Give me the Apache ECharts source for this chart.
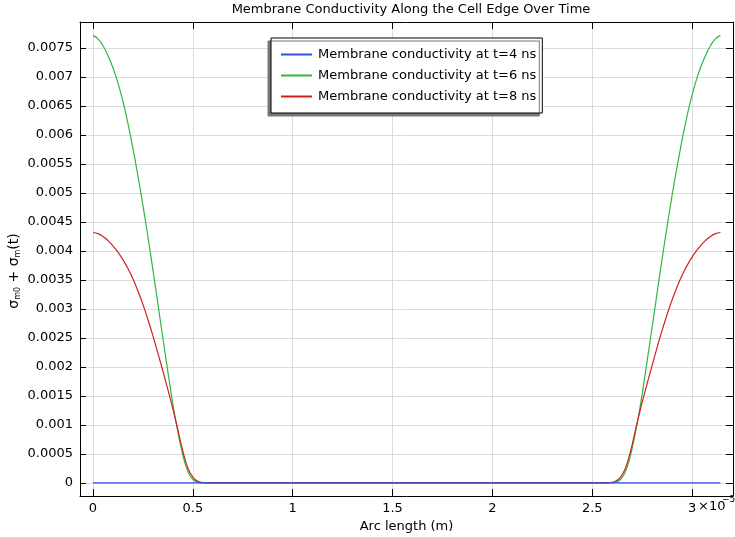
<!DOCTYPE html>
<html lang="en">
<head>
    <meta charset="UTF-8">
    <title>Membrane Conductivity Along the Cell Edge Over Time</title>
    <script src="https://cdn.jsdelivr.net/npm/echarts@6/dist/echarts.min.js"></script>
    <style>
        html, body { margin: 0; padding: 0; background: #fff; }
        #chart { width: 735px; height: 537px; }
    </style>
</head>
<body>
<div id="chart"></div>
<script>
    // arc length, in units of 1e-5 m
    const arcLength = [
        0, 0.025, 0.05, 0.075, 0.1, 0.125, 0.15, 0.175, 0.2, 0.225, 0.25, 0.275, 0.3,
        0.325, 0.35, 0.375, 0.4, 0.425, 0.45, 0.475, 0.5, 0.525, 0.55, 0.575, 0.6,
        1.0, 1.5, 2.0, 2.5,
        2.542, 2.567, 2.592, 2.617, 2.642, 2.667, 2.692, 2.717, 2.742, 2.767, 2.792, 2.817,
        2.842, 2.867, 2.892, 2.917, 2.942, 2.967, 2.992, 3.017, 3.042, 3.067, 3.092, 3.117, 3.142
    ]
    const sigmaT4 = [
        0, 0, 0, 0, 0, 0, 0, 0, 0, 0, 0, 0, 0, 0, 0, 0, 0, 0, 0, 0, 0, 0, 0, 0, 0,
        0, 0, 0, 0,
        0, 0, 0, 0, 0, 0, 0, 0, 0, 0, 0, 0, 0, 0, 0, 0, 0, 0, 0, 0, 0, 0, 0, 0, 0
    ]
    const sigmaT6 = [
        0.00772, 0.00766, 0.00754, 0.00737, 0.00716, 0.00690, 0.00658, 0.00620, 0.00577,
        0.00530, 0.00479, 0.00425, 0.00368, 0.00309, 0.00250, 0.00192, 0.00136, 0.00088,
        0.00048, 0.00020, 0.00006, 0.000015, 0.000004, 0.000001, 0,
        0, 0, 0, 0,
        0, 0.000001, 0.000004, 0.000015, 0.00006, 0.00020, 0.00048, 0.00088, 0.00136,
        0.00192, 0.00250, 0.00309, 0.00368, 0.00425, 0.00479, 0.00530, 0.00577, 0.00620,
        0.00658, 0.00690, 0.00716, 0.00737, 0.00754, 0.00766, 0.00772
    ]
    const sigmaT8 = [
        0.00432, 0.00430, 0.00425, 0.00418, 0.00409, 0.00398, 0.00385, 0.00370, 0.00352,
        0.00331, 0.00308, 0.00282, 0.00254, 0.00224, 0.00193, 0.00161, 0.00128, 0.00092,
        0.00055, 0.00026, 0.00010, 0.00003, 0.000008, 0.000002, 0,
        0, 0, 0, 0,
        0, 0.000002, 0.000008, 0.00003, 0.00010, 0.00026, 0.00055, 0.00092, 0.00128,
        0.00161, 0.00193, 0.00224, 0.00254, 0.00282, 0.00308, 0.00331, 0.00352, 0.00370,
        0.00385, 0.00398, 0.00409, 0.00418, 0.00425, 0.00430, 0.00432
    ]
    const seriesNames = [
        'Membrane conductivity at t=4 ns',
        'Membrane conductivity at t=6 ns',
        'Membrane conductivity at t=8 ns'
    ]
    const seriesColors = ['#2f4fe8', '#2fb83f', '#d21e1e']

    function pairs(values) {
        return arcLength.map((x, i) => [x, values[i]])
    }

    const font = 'DejaVu Sans'
    const frameAxis = {
        axisLine: {show: true, onZero: false, lineStyle: {color: '#000', width: 1}},
        axisTick: {show: true, inside: true, length: 7, lineStyle: {color: '#000'}},
        axisLabel: {show: false},
        splitLine: {show: false}
    }
    const xScale = {type: 'value', min: -0.065, max: 3.205, splitNumber: 6}
    const yScale = {type: 'value', min: -0.000225, max: 0.00795, splitNumber: 16}

    let myChart = echarts.init(document.getElementById('chart'))
    let option = {
        animation: false,
        backgroundColor: '#fff',
        textStyle: {fontFamily: font},
        title: {
            text: 'Membrane Conductivity Along the Cell Edge Over Time',
            left: 406, top: -2, textAlign: 'center',
            textStyle: {fontFamily: font, fontSize: 13, fontWeight: 'normal', color: '#000'}
        },
        grid: {left: 80, right: 2, top: 22, bottom: 41, outerBoundsMode: 'none', containLabel: false},
        legend: {
            orient: 'vertical',
            left: 271, top: 38,
            padding: [10, 6, 10, 10],
            itemGap: 8,
            itemWidth: 31, itemHeight: 2,
            icon: 'rect',
            backgroundColor: '#fff',
            borderColor: '#000', borderWidth: 1,
            shadowColor: '#777', shadowBlur: 0, shadowOffsetX: -3, shadowOffsetY: 3,
            textStyle: {fontFamily: font, fontSize: 13, color: '#000', padding: [0, 0, 0, 1]},
            data: seriesNames
        },
        xAxis: [
            Object.assign({}, xScale, {
                position: 'bottom',
                name: 'Arc length (m)',
                nameLocation: 'middle', nameGap: 21,
                nameTextStyle: {fontFamily: font, fontSize: 13, color: '#000'},
                axisLine: {show: true, onZero: false, lineStyle: {color: '#000', width: 1}},
                axisTick: {show: true, inside: true, length: 7, lineStyle: {color: '#000'}},
                axisLabel: {
                    showMinLabel: false, showMaxLabel: false,
                    color: '#000', fontFamily: font, fontSize: 13, margin: 6
                },
                splitLine: {show: true, lineStyle: {color: '#dcdcdc', width: 1}}
            }),
            Object.assign({}, xScale, frameAxis, {position: 'top'})
        ],
        yAxis: [
            Object.assign({}, yScale, {
                position: 'left',
                name: '{s|σ}{b|m0}{s| + σ}{b|m}{s|(t)}',
                nameLocation: 'middle', nameGap: 58, nameRotate: 90,
                nameMoveOverlap: false,
                nameTextStyle: {
                    color: '#000',
                    padding: [0, 24, 0, 0],
                    rich: {
                        s: {fontFamily: font, fontSize: 14, color: '#000', lineHeight: 16},
                        b: {fontFamily: font, fontSize: 8, color: '#000', verticalAlign: 'bottom', lineHeight: 16}
                    }
                },
                axisLine: {show: true, onZero: false, lineStyle: {color: '#000', width: 1}},
                axisTick: {show: true, inside: true, length: 6, lineStyle: {color: '#000'}},
                axisLabel: {
                    showMinLabel: false, showMaxLabel: false,
                    color: '#000', fontFamily: font, fontSize: 13, margin: 7
                },
                splitLine: {show: true, lineStyle: {color: '#dcdcdc', width: 1}}
            }),
            Object.assign({}, yScale, frameAxis, {position: 'right'})
        ],
        graphic: [
            {
                type: 'text', left: 698, top: 500,
                style: {text: '×10', font: '13px "DejaVu Sans"', fill: '#000'}
            },
            {
                type: 'text', left: 722, top: 495,
                style: {text: '−5', font: '9px "DejaVu Sans"', fill: '#000'}
            }
        ],
        series: [sigmaT4, sigmaT6, sigmaT8].map((values, i) => ({
            name: seriesNames[i],
            type: 'line',
            data: pairs(values),
            smooth: 0.5,
            symbol: 'none',
            color: seriesColors[i],
            lineStyle: {width: 1.2, color: seriesColors[i]},
            z: i === 0 ? 3 : 2
        }))
    }
    myChart.setOption(option)
</script>
</body>
</html>
